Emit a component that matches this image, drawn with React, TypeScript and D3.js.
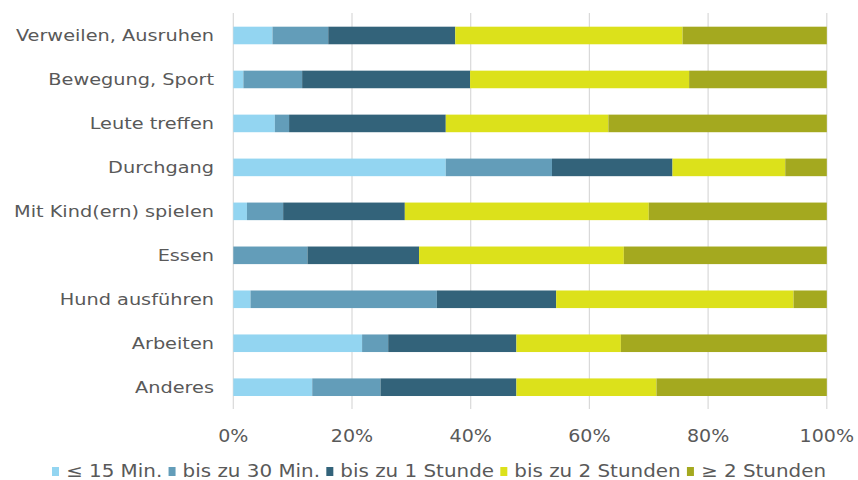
import React from "react";
import * as d3 from "d3";

const categories = [
  "Verweilen, Ausruhen",
  "Bewegung, Sport",
  "Leute treffen",
  "Durchgang",
  "Mit Kind(ern) spielen",
  "Essen",
  "Hund ausführen",
  "Arbeiten",
  "Anderes",
];

const seriesNames = ["≤ 15 Min.", "bis zu 30 Min.", "bis zu 1 Stunde", "bis zu 2 Stunden", "≥ 2 Stunden"];

const s15 = [6.6, 1.7, 7.0, 35.8, 2.3, 0, 2.9, 21.7, 13.3];
const s30 = [9.4, 9.9, 2.4, 17.9, 6.1, 12.5, 31.4, 4.4, 11.5];
const s1h = [21.4, 28.3, 26.4, 20.3, 20.5, 18.8, 20.1, 21.6, 22.9];
const s2h = [38.3, 36.9, 27.4, 19.0, 41.1, 34.5, 40.0, 17.6, 23.6];
const sMore = [24.3, 23.2, 36.8, 7.0, 30.0, 34.2, 5.6, 34.7, 28.7];

const tickValues = [0, 20, 40, 60, 80, 100];

const colors = ["#93d5f1", "#639db9", "#33637a", "#dce11b", "#a4a91f"];

const W = 858;
const H = 480;
const FONT = "'DejaVu Sans', Verdana, sans-serif";
const TEXT = "#595959";
const SX = 1.17;

function measure(text: string, size: number): number {
  if (typeof document === "undefined") return text.length * size * 0.6;
  const c = document.createElement("canvas");
  const ctx = c.getContext("2d");
  if (!ctx) return text.length * size * 0.6;
  ctx.font = `${size}px 'DejaVu Sans'`;
  return ctx.measureText(text).width;
}

export default function App() {
  const x = d3.scaleLinear().domain([0, 100]).range([233.3, 826.8]);
  const y = d3.scaleBand<string>().domain(categories).range([13.5, 409.2]).paddingInner(0.6).paddingOuter(0.3);

  const rows = categories.map((c, i) => {
    const vals = [s15[i], s30[i], s1h[i], s2h[i], sMore[i]];
    const total = d3.sum(vals);
    return { c, vals: vals.map((v) => (v / total) * 100) };
  });

  const stackData = rows.map((r) => {
    const o: any = { c: r.c };
    seriesNames.forEach((s, j) => (o[s] = r.vals[j]));
    return o;
  });
  const stacked = d3.stack<any>().keys(seriesNames)(stackData);

  // legend layout
  const legendFont = 17;
  const sq = 7;
  const gapSq = 7;
  const legendLeft = 52;
  const legendRight = 826;
  const textW = seriesNames.map((s) => measure(s, legendFont) * SX);
  const fixed = seriesNames.length * (sq + gapSq) + d3.sum(textW);
  const gapItem = (legendRight - legendLeft - fixed) / (seriesNames.length - 1);
  let acc = legendLeft;
  const legendPos = textW.map((w) => {
    const p = acc;
    acc += sq + gapSq + w + gapItem;
    return p;
  });

  return (
    <svg width={W} height={H} style={{ position: "absolute", left: 0, top: 0, background: "#fff" }} fontFamily={FONT}>
      <rect width={W} height={H} fill="#fff" />
      {tickValues.map((t) => (
        <line key={t} x1={x(t)} x2={x(t)} y1={13} y2={409} stroke="#d9d9d9" strokeWidth={1.2} />
      ))}
      {stacked.map((layer, j) => (
        <g key={layer.key} fill={colors[j]}>
          {layer.map((d, i) => (
            <rect
              key={i}
              x={x(d[0])}
              width={Math.max(0, x(d[1]) - x(d[0]))}
              y={y(d.data.c)!}
              height={y.bandwidth()}
            />
          ))}
        </g>
      ))}
      {categories.map((c) => (
        <g key={c} transform={`translate(214,${y(c)! + y.bandwidth() / 2}) scale(${SX},1)`}>
          <text x={0} y={0} dy="0.36em" textAnchor="end" fontSize={16.5} fill={TEXT}>
            {c}
          </text>
        </g>
      ))}
      {tickValues.map((t) => (
        <g key={t} transform={`translate(${x(t)},441.5) scale(1.12,1)`}>
          <text x={0} y={0} textAnchor="middle" fontSize={17} fill={TEXT}>
            {t}%
          </text>
        </g>
      ))}
      {seriesNames.map((s, j) => (
        <g key={s} transform={`translate(${legendPos[j]},0)`}>
          <rect x={0} y={467} width={sq} height={9} fill={colors[j]} />
          <g transform={`translate(${sq + gapSq},477) scale(${SX},1)`}>
            <text x={0} y={0} fontSize={legendFont} fill={TEXT}>
              {s}
            </text>
          </g>
        </g>
      ))}
    </svg>
  );
}
